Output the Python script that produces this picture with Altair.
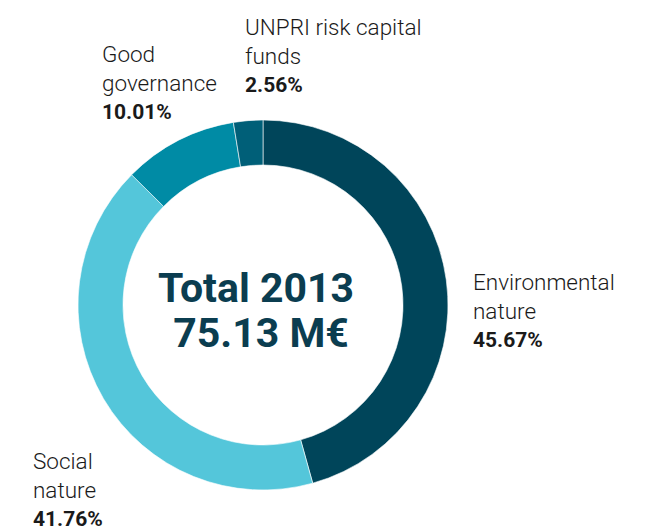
import altair as alt
import pandas as pd

# ---- data ----
categories = ["Environmental nature", "Social nature", "Good governance", "UNPRI risk capital funds"]
shares = [45.67, 41.76, 10.01, 2.56]
name_lines = [["Environmental", "nature"], ["Social", "nature"], ["Good", "governance"], ["UNPRI risk capital", "funds"]]
pct_labels = ["45.67%", "41.76%", "10.01%", "2.56%"]
colors = ["#00455A", "#54C6DA", "#008BA5", "#005F78"]
total_title = "Total 2013"
total_value = "75.13 M€"

# ---- layout (chart pixel coordinates) ----
W, H = 629, 523
CX, CY = 255, 297
R_OUT, R_IN = 185, 140
FONT = "Roboto"
label_pos = [(465, 282), (25, 461), (94, 54), (237, 27)]  # left x, baseline of first line
LINE_H = 29
PCT_DY = 57

df = pd.DataFrame({"category": categories, "share": shares, "order": list(range(len(categories)))})

arc = alt.Chart(df).mark_arc(
    innerRadius=R_IN, outerRadius=R_OUT, stroke="white", strokeWidth=0.6
).encode(
    theta=alt.Theta("share:Q", stack=True),
    color=alt.Color("category:N", scale=alt.Scale(domain=categories, range=colors), legend=None),
    order=alt.Order("order:Q"),
    x=alt.value(CX),
    y=alt.value(CY),
)

layers = [arc]
one = pd.DataFrame({"k": [0]})
for i, cat in enumerate(categories):
    lx, ly = label_pos[i]
    layers.append(
        alt.Chart(one).mark_text(
            align="left", baseline="alphabetic", font=FONT, fontSize=22.5, fontWeight=300,
            color="#1a1a1a", lineHeight=LINE_H, text=name_lines[i]
        ).encode(x=alt.value(lx), y=alt.value(ly))
    )
    layers.append(
        alt.Chart(one).mark_text(
            align="left", baseline="alphabetic", font=FONT, fontSize=21,
            fontWeight="bold", color="#1a1a1a", text=pct_labels[i]
        ).encode(x=alt.value(lx), y=alt.value(ly + PCT_DY))
    )

layers.append(
    alt.Chart(one).mark_text(
        align="center", baseline="alphabetic", font=FONT, fontSize=41,
        fontWeight="bold", color="#0B3D50", text=total_title
    ).encode(x=alt.value(CX - 7), y=alt.value(294))
)
layers.append(
    alt.Chart(one).mark_text(
        align="center", baseline="alphabetic", font=FONT, fontSize=41,
        fontWeight="bold", color="#0B3D50", text=total_value
    ).encode(x=alt.value(CX - 2), y=alt.value(339))
)

chart = alt.layer(*layers).properties(
    width=W, height=H, autosize=alt.AutoSizeParams(type="none"), padding=0
).configure_view(stroke=None)

chart.save("out.html", embed_options={"renderer": "svg", "actions": False})
